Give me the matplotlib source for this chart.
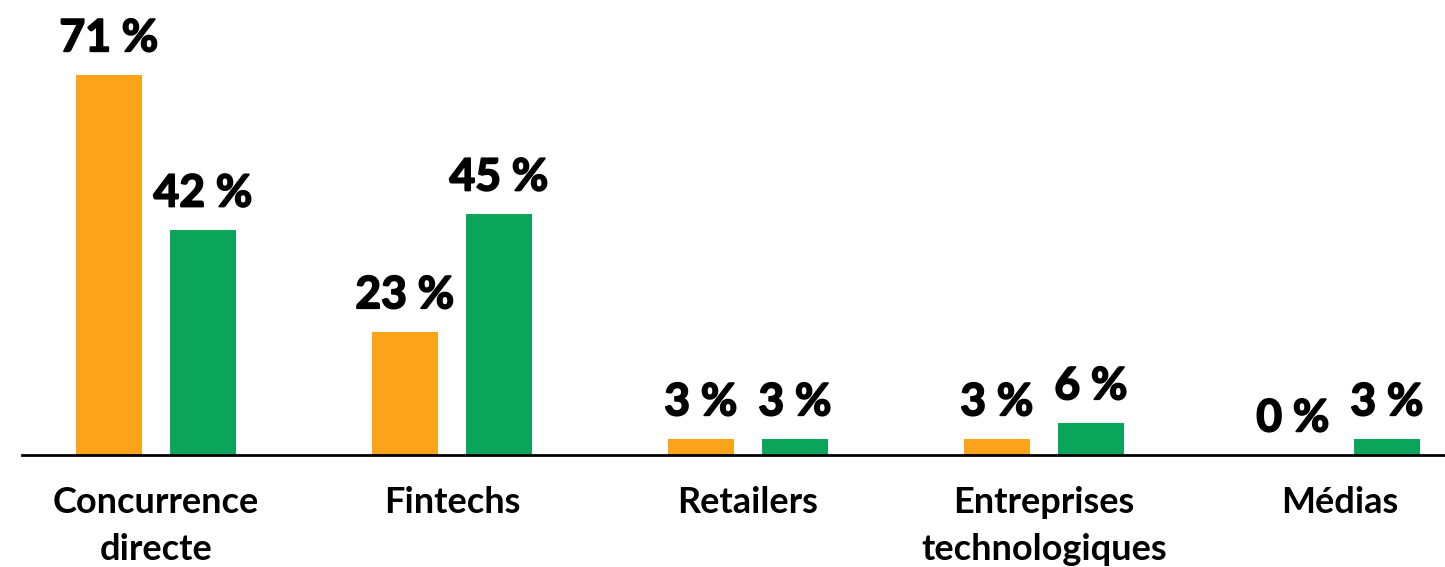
import matplotlib
matplotlib.use("Agg")
import matplotlib.pyplot as plt
import matplotlib.patheffects as pe
import numpy as np

categories = ["Concurrence\ndirecte", "Fintechs", "Retailers", "Entreprises\ntechnologiques", "Médias"]
series_a = [71, 23, 3, 3, 0]
series_b = [42, 45, 3, 6, 3]

orange = "#FBA31A"
green = "#0BA55C"

plt.rcParams["font.family"] = ["Lato", "DejaVu Sans"]

fig = plt.figure(figsize=(14.45, 5.67), dpi=100)
ax = fig.add_axes([22 / 1445, 112 / 567, 1 - 22 / 1445, 455 / 567])

x = np.arange(len(categories))
w = 0.223
off = 0.159

bars_a = ax.bar(x - off, series_a, width=w, color=orange)
bars_b = ax.bar(x + off, series_b, width=w, color=green)

heavy = [pe.withStroke(linewidth=1.3, foreground="black")]
for bars, vals in ((bars_a, series_a), (bars_b, series_b)):
    for b, v in zip(bars, vals):
        ax.annotate(f"{v} %", (b.get_x() + b.get_width() / 2, v),
                    xytext=(0, 12), textcoords="offset points",
                    ha="center", va="bottom", fontsize=32, fontweight="bold",
                    color="black", annotation_clip=False, path_effects=heavy)

ax.set_xlim(-0.4527, 4.355)
ax.set_ylim(0, 85)
ax.set_xticks(x)
ax.set_xticklabels(categories, fontsize=26, fontweight="bold", linespacing=1.55)
ax.tick_params(axis="x", length=0, pad=22)
ax.set_yticks([])
for s in ("top", "right", "left"):
    ax.spines[s].set_visible(False)
ax.spines["bottom"].set_linewidth(2)
ax.spines["bottom"].set_color("black")

fig.savefig("out.png", dpi=100)
